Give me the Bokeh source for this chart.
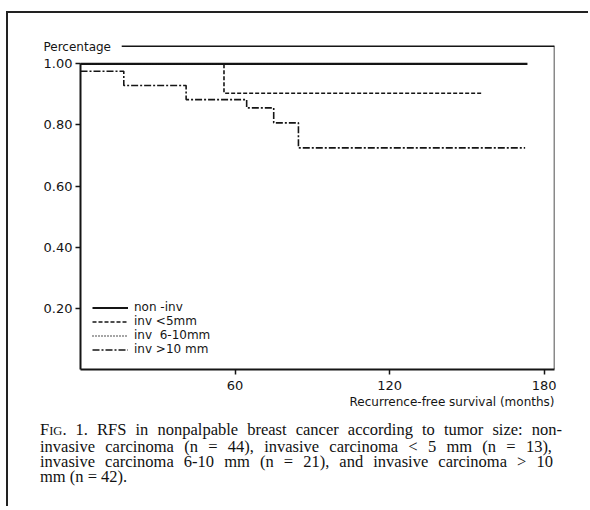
from bokeh.plotting import figure
from bokeh.models import Range1d, FixedTicker, PrintfTickFormatter, Legend, LegendItem, Title, Span, Div
from bokeh.layouts import column
from bokeh.embed import file_html
from bokeh.resources import INLINE

# ---- data ----
noninv_t = [0, 173.5]
noninv_s = [1.0, 1.0]

inv5_t = [0, 55.7, 156.3]
inv5_s = [1.0, 0.904, 0.904]

inv610_t = [0, 132.0]
inv610_s = [1.0, 1.0]

inv10_t = [0, 16.8, 41.0, 64.5, 75.0, 84.6, 172.6]
inv10_s = [0.976, 0.929, 0.883, 0.856, 0.807, 0.725, 0.725]

series_labels = ["non -inv", "inv <5mm", "inv  6-10mm", "inv >10 mm"]
x_ticks = [60, 120, 180]
y_ticks = [0.2, 0.4, 0.6, 0.8, 1.0]

# frame box (axis extents)
X_MAX = 184
Y_TOP = 1.06
TOP_LINE_START = 16

caption_lines = [
    "F<span style='font-size:12.5px'>IG</span>. 1. RFS in nonpalpable breast cancer according to tumor size: non-",
    "invasive carcinoma (n = 44), invasive carcinoma &lt; 5 mm (n = 13),",
    "invasive carcinoma 6-10 mm (n = 21), and invasive carcinoma &gt; 10",
    "mm (n = 42).",
]
caption_widths = [522, 512, 513, None]

INK = "#151515"

p = figure(width=582, height=400, x_range=Range1d(0, X_MAX), y_range=Range1d(0, Y_TOP),
           output_backend="svg", toolbar_location=None,
           min_border_left=72, min_border_right=36, min_border_top=32, min_border_bottom=44)
p.margin = (11, 0, 0, 6)
p.styles = {"border-left": "2px solid #222", "border-top": "2px solid #222"}
p.grid.visible = False
p.outline_line_color = None
p.background_fill_color = "white"
p.border_fill_color = "white"

r1 = p.step(noninv_t, noninv_s, mode="after", line_color=INK, line_width=2.2)
r3 = p.step(inv610_t, inv610_s, mode="after", line_color=INK, line_width=1.5, line_dash="1 2")
r2 = p.step(inv5_t, inv5_s, mode="after", line_color=INK, line_width=1.6, line_dash="4 2")
r4 = p.step(inv10_t, inv10_s, mode="after", line_color=INK, line_width=1.6, line_dash="7 2 2 2")

# frame top (after the "Percentage" caption) and right borders
p.segment(x0=[TOP_LINE_START], y0=[Y_TOP], x1=[X_MAX], y1=[Y_TOP], line_color=INK, line_width=3)
p.add_layout(Span(location=X_MAX, dimension="height", line_color=INK, line_width=1.5))

for ax in (p.xaxis[0], p.yaxis[0]):
    ax.axis_line_color = INK
    ax.axis_line_width = 2
    ax.major_tick_line_color = INK
    ax.major_tick_line_width = 1.5
    ax.major_tick_out = 5
    ax.major_tick_in = 0
    ax.minor_tick_line_color = None
    ax.major_label_text_font = "DejaVu Sans"
    ax.major_label_text_font_size = "13px"
    ax.major_label_text_color = INK

p.yaxis.ticker = FixedTicker(ticks=y_ticks)
p.yaxis.formatter = PrintfTickFormatter(format="%.2f")
p.yaxis.bounds = (0, 1.0)
p.yaxis.major_label_standoff = 3

p.xaxis.ticker = FixedTicker(ticks=x_ticks)
p.xaxis.major_label_standoff = 6

p.add_layout(Title(text="Recurrence-free survival (months)", align="right", standoff=0,
                   text_font="DejaVu Sans", text_font_size="12px", text_font_style="normal",
                   text_color=INK), "below")
p.add_layout(Title(text="Percentage", align="left", offset=-37, standoff=-16, padding=0,
                   text_font="DejaVu Sans", text_font_size="12px", text_font_style="normal",
                   text_color=INK), "above")

legend = Legend(items=[LegendItem(label=series_labels[0], renderers=[r1]),
                       LegendItem(label=series_labels[1], renderers=[r2]),
                       LegendItem(label=series_labels[2], renderers=[r3]),
                       LegendItem(label=series_labels[3], renderers=[r4])],
                location=(12, 13), glyph_width=36, glyph_height=11, label_height=11,
                spacing=-3, padding=2, margin=0, label_standoff=6,
                label_text_font="DejaVu Sans", label_text_font_size="12px",
                label_text_color=INK, border_line_color=None, background_fill_alpha=0)
p.add_layout(legend)

rows = []
for txt, w in zip(caption_lines, caption_widths):
    if w:
        rows.append(f"<div style='width:{w}px;text-align:justify;text-align-last:justify'>{txt}</div>")
    else:
        rows.append(f"<div>{txt}</div>")
html = ("<div style=\"margin-left:6px;border-left:2px solid #222;height:95px;box-sizing:border-box;"
        "padding-left:32px;padding-top:11px;font-family:'Liberation Serif';"
        "font-size:16.5px;line-height:15px;color:#111\">" + "".join(rows) + "</div>")
cap = Div(text=html, width=590, height=95, margin=0)

layout = column(p, cap, spacing=0)

open("out.html", "w").write(file_html(layout, INLINE))
